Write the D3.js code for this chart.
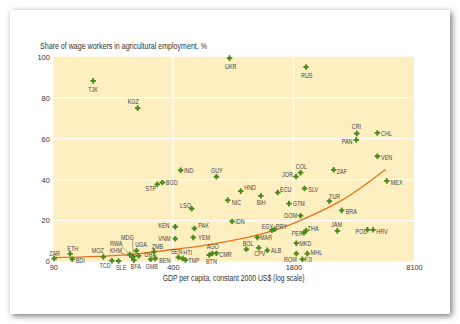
<!DOCTYPE html>
<html><head><meta charset="utf-8">
<script src="https://cdn.jsdelivr.net/npm/d3@7/dist/d3.min.js"></script>
<style>
html,body{margin:0;padding:0;background:#fff;}
svg{display:block;}
text{font-family:"Liberation Sans Narrow","Arial Narrow","Liberation Sans",Arial,sans-serif;}
</style></head>
<body>
<svg id="chart" width="460" height="324"></svg>
<script>
// ---- data ----
const codes = ["ZAR","ETH","BDI","MOZ","TCD","SLE","BFA","GMB","BEN","ZMB","GHA","UGA","MDG","RWA","KHM",
  "KEN","VNM","SEN","HTI","TMP","PAK","YEM","LSO","STP","BGD","IND","GUY","TJK","KGZ","UKR","RUS",
  "BTN","AGO","CMR","IDN","NIC","HND","BIH","ECU","JOR","COL","GTM","DOM","SLV","ZAF","CRI","PAN",
  "CHL","VEN","MEX","TUR","BRA","BOL","CPV","ALB","MAR","EGY","PRY","PER","THA","JAM","POL","HRV",
  "MKD","ROM","MHL","FJI"];
const gdpPerCapita = [91,111,114,168,187,203,246,303,321,316,261,254,244,234,240,
  412,412,429,452,468,523,516,506,329,351,441,689,148,258,811,2106,
  630,654,689,837,793,933,1198,1480,1859,1967,1704,1967,2067,2976,3966,3944,
  5129,5129,5770,2818,3289,1000,1167,1300,1147,1378,1422,2055,2106,3114,4526,4860,
  1866,1866,2140,2011];
const wageShare = [1.5,3.8,1.2,2.3,0.4,0.3,0.7,1.1,1.5,4.9,2.8,5.3,2.5,3.5,2.2,
  17.0,11.2,2.1,1.5,0.8,16.2,11.8,25.8,37.7,38.6,44.6,41.4,88.2,74.9,99.3,95.0,
  3.2,4.0,4.1,19.6,30.0,34.4,32.1,33.7,41.5,43.4,28.3,22.4,35.7,44.8,62.5,59.4,
  62.8,51.4,39.4,29.5,25.0,6.0,6.7,5.5,11.8,15.3,15.8,14.1,15.2,15.0,15.5,15.5,
  9.0,3.9,3.9,1.1];
// fitted trend line
const trendGdp = [90,234,400,561,816,1186,1525,1955,3300,5680];
const trendShare = [1.9,3.4,5.9,7.6,10.1,13.3,16.2,20.0,30.0,45.0];
const xTicks = [90,400,1800,8100];
const yTicks = [0,20,40,60,80,100];
const yTitle = "Share of wage workers in agricultural employment, %";
const xTitle = "GDP per capita, constant 2000 US$ (log scale)";

// ---- label layout (pixel offsets of label left/centre from the marker) ----
const labelOffset = {
  ZAR:[-5,-5.5],ETH:[-2.8,-5.5],BDI:[3.5,1],MOZ:[-11.6,-6.1],TCD:[-12.4,4.4],SLE:[-2.5,6.3],
  BFA:[-3.3,6.7],GMB:[-5,7.4],BEN:[4,1.6],ZMB:[-2.3,-4.8],GHA:[5.6,-1.7],UGA:[-1.3,-6.4],
  MDG:[-12.3,-19],RWA:[-20,-11.3],KHM:[-22,-7],KEN:[-16.9,-1.7],VNM:[-16.9,-0.2],SEN:[-7.5,-6.2],
  HTI:[0.6,-6.1],TMP:[2.8,0.5],PAK:[4,-3.3],YEM:[5,0],LSO:[-11.7,-3.4],STP:[-11.6,3.7],
  BGD:[3.4,0],IND:[3.3,0],GUY:[-5.5,-6],TJK:[-5,8.3],KGZ:[-10,-7],UKR:[-4.5,8],RUS:[-5,8.3],
  BTN:[-3.3,6.3],AGO:[-5.6,-6.5],CMR:[2.8,1],IDN:[3.3,0],NIC:[4,2.3],HND:[3.5,-3.3],
  BIH:[-4.1,6.6],ECU:[2.3,-3.2],JOR:[-14,-2.5],COL:[-4.8,-5.8],GTM:[3.7,-0.2],DOM:[-16.2,0.2],
  SLV:[3.8,1],ZAF:[3,1.3],CRI:[-5,-6.6],PAN:[-14.6,1.3],CHL:[3.7,0.6],VEN:[3.7,1.5],MEX:[4,1.3],
  TUR:[-0.3,-5],BRA:[4,0.8],BOL:[-3.6,-6],CPV:[-4.4,5.6],ALB:[3.7,-0.3],MAR:[2.7,0],
  EGY:[-10.3,-4.2],PRY:[1.2,-3.2],PER:[-12.3,0.8],THA:[1.7,-2],JAM:[-6.3,-6.7],POL:[-11.8,2],
  HRV:[3.3,2],MKD:[3,0],ROM:[-12.3,5.5],MHL:[3.4,-1.2],FJI:[2.2,-0.2]
};
const leaderLabels = ["MDG","RWA","KHM"];

// ---- drawing ----
const svg = d3.select("#chart");
const defs = svg.append("defs");
const f = defs.append("filter").attr("id","sh").attr("x","-10%").attr("y","-10%").attr("width","120%").attr("height","120%");
f.append("feGaussianBlur").attr("in","SourceAlpha").attr("stdDeviation",3);
f.append("feOffset").attr("dx",2).attr("dy",2).attr("result","b");
f.append("feComponentTransfer").append("feFuncA").attr("type","linear").attr("slope",0.55);
const m = f.append("feMerge"); m.append("feMergeNode"); m.append("feMergeNode").attr("in","SourceGraphic");

svg.append("rect").attr("x",10).attr("y",10).attr("width",440).attr("height",304).attr("rx",2)
  .attr("fill","#fff").attr("filter","url(#sh)");

const P = {left:53.3,right:414,top:56.7,bottom:261.6};
const x = d3.scaleLog().domain([90,8100]).range([P.left,P.right]);
const y = d3.scaleLinear().domain([0,100]).range([P.bottom,P.top]);
const SX = 0.8; // horizontal condensing of text

svg.append("rect").attr("x",P.left).attr("y",P.top).attr("width",P.right-P.left).attr("height",P.bottom-P.top)
  .attr("fill","#fdefbf");

const g = svg.append("g");
g.selectAll("line.gy").data(yTicks.filter(d=>d>0&&d<100)).join("line")
  .attr("x1",P.left).attr("x2",P.right).attr("y1",d=>y(d)).attr("y2",d=>y(d))
  .attr("stroke","#fff").attr("stroke-width",1.3);
g.selectAll("line.gx").data(xTicks.filter(d=>d>90&&d<8100)).join("line")
  .attr("y1",P.top).attr("y2",P.bottom).attr("x1",d=>x(d)).attr("x2",d=>x(d))
  .attr("stroke","#fff").attr("stroke-width",1.3);

// axes
const ya = svg.append("g").attr("transform",`translate(${P.left},0)`)
  .call(d3.axisLeft(y).tickValues(yTicks).tickSize(0).tickPadding(3.5));
const xa = svg.append("g").attr("transform",`translate(0,${P.bottom})`)
  .call(d3.axisBottom(x).tickValues(xTicks).tickSize(0).tickPadding(3).tickFormat(d3.format("d")));
[ya,xa].forEach(a=>{a.select(".domain").remove();
  a.selectAll("text").attr("fill","#333").style("font-size","7.4px").style("font-family","'Liberation Sans',Arial,sans-serif");});

svg.append("text").attr("x",40).attr("y",49).attr("fill","#333").style("font-size","8.4px")
  .attr("textLength",167).attr("lengthAdjust","spacingAndGlyphs").text(yTitle);
svg.append("text").attr("x",(P.left+P.right)/2).attr("y",281).attr("text-anchor","middle")
  .attr("fill","#333").style("font-size","8.4px")
  .attr("textLength",142).attr("lengthAdjust","spacingAndGlyphs").text(xTitle);

// trend line
const line = d3.line().x((d,i)=>x(trendGdp[i])).y((d,i)=>y(trendShare[i])).curve(d3.curveCatmullRom);
svg.append("path").datum(trendGdp).attr("d",line).attr("fill","none").attr("stroke","#e8731e").attr("stroke-width",1.3);

// points
const pts = codes.map((c,i)=>({c,g:gdpPerCapita[i],v:wageShare[i]}));
const lbl = svg.append("g");
pts.forEach(p=>{
  const px=x(p.g), py=y(p.v); const o=labelOffset[p.c]||[4,0];
  const gg = lbl.append("g").attr("transform",`translate(${px+o[0]},${py+o[1]+2.5}) scale(${SX},1)`);
  const t = gg.append("text").attr("x",0).attr("y",0).attr("fill","#444")
    .style("font-size","6.8px").text(p.c);
  if(leaderLabels.includes(p.c)){
    const w=t.node().getComputedTextLength()*SX;
    lbl.append("line").attr("x1",px+o[0]+w-1).attr("y1",py+o[1]+2.8).attr("x2",px).attr("y2",py)
      .attr("stroke","#555").attr("stroke-width",0.5);
  }
});
const mk = svg.append("g").selectAll("g").data(pts).join("g")
  .attr("transform",p=>`translate(${x(p.g)},${y(p.v)})`);
mk.append("path").attr("d",d3.symbol(d3.symbolCross,17)).attr("fill","#4e8a1f");
mk.append("circle").attr("r",1.7).attr("fill","#4e8a1f");
</script>
</body></html>
